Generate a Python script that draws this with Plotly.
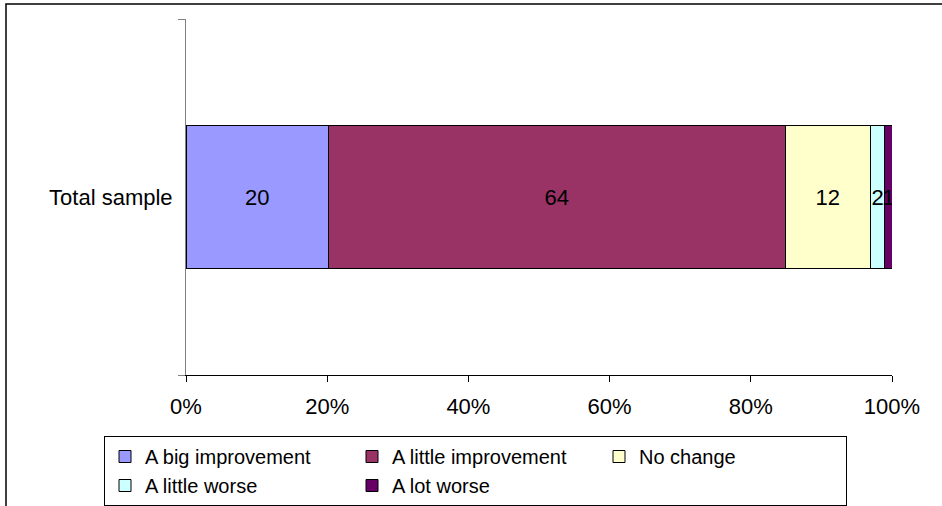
import plotly.graph_objects as go

categories = ["Total sample"]
series_names = ["A big improvement", "A little improvement", "No change", "A little worse", "A lot worse"]
series_values = [[20], [64], [12], [2], [1]]
series_colors = ["#9999FF", "#993366", "#FFFFCC", "#CCFFFF", "#660066"]
x_tick_values = [0, 20, 40, 60, 80, 100]
x_tick_labels = ["0%", "20%", "40%", "60%", "80%", "100%"]

W, H = 942, 506
L, R, T, B = 186, 50, 19, 131
pw, ph = W - L - R, H - T - B

def px_x(p):
    return (p - L) / pw

def px_y(p):
    return (H - B - p) / ph

FONT = "Liberation Sans, Arial, sans-serif"
FS = 22
LFS = 20

fig = go.Figure()
for name, vals, col in zip(series_names, series_values, series_colors):
    fig.add_trace(go.Bar(
        name=name, y=categories, x=vals, orientation="h",
        marker=dict(color=col, line=dict(color="#000000", width=1)),
        text=[str(v) for v in vals], textposition="inside",
        insidetextanchor="middle", constraintext="none",
        insidetextfont=dict(color="#000000", size=FS, family=FONT),
        hoverinfo="name+x",
    ))

fig.update_layout(
    width=W, height=H,
    margin=dict(l=L, r=R, t=T, b=B, pad=0, autoexpand=False),
    barmode="stack", barnorm="percent", bargap=0.6,
    plot_bgcolor="#FFFFFF", paper_bgcolor="#FFFFFF",
    font=dict(family=FONT, size=FS, color="#000000"),
    showlegend=True,
    legend=dict(
        orientation="h", x=px_x(104), y=px_y(436), xanchor="left", yanchor="top",
        entrywidth=202, entrywidthmode="pixels",
        bordercolor="#000000", borderwidth=1, bgcolor="#FFFFFF",
        font=dict(size=LFS, family=FONT, color="#000000"),
        traceorder="normal",
    ),
    xaxis=dict(
        range=[0, 100], tickvals=x_tick_values, ticktext=x_tick_labels,
        showgrid=False, zeroline=False, showline=True, linecolor="#000000", linewidth=1,
        ticks="outside", ticklen=6, tickcolor="#000000", ticklabelstandoff=6,
        tickfont=dict(size=FS, family=FONT, color="#000000"), fixedrange=True,
        automargin=False,
    ),
    yaxis=dict(
        type="category", tickson="boundaries",
        showgrid=False, zeroline=False, showline=True, linecolor="#808080", linewidth=1,
        ticks="outside", ticklen=7, tickcolor="#808080", ticklabelstandoff=8,
        tickfont=dict(size=FS, family=FONT, color="#000000"), fixedrange=True,
        automargin=False,
    ),
    shapes=[dict(
        type="rect", xref="paper", yref="paper",
        x0=px_x(6), x1=px_x(960), y0=px_y(4), y1=px_y(530),
        line=dict(color="#000000", width=1.5), fillcolor="rgba(0,0,0,0)", layer="below",
    )],
)

fig.write_html(
    "out.html",
    config={"displayModeBar": False},
    post_script="document.body.style.margin='0';document.body.style.overflow='hidden';",
)
